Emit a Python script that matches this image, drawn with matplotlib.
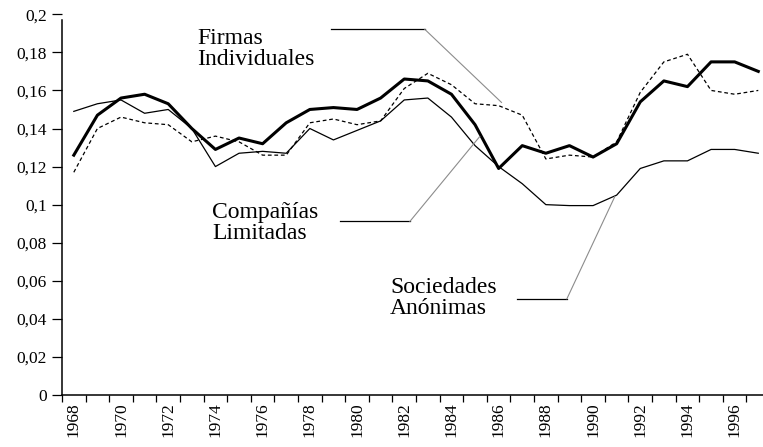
import numpy as np
import matplotlib
matplotlib.use("Agg")
import matplotlib.pyplot as plt

# years on the categorical x axis
years = list(range(1968, 1998))

# Compañías Limitadas (thick line)
limitadas = [0.126, 0.147, 0.156, 0.158, 0.153, 0.140, 0.129, 0.135, 0.132, 0.143,
             0.150, 0.151, 0.150, 0.156, 0.166, 0.165, 0.158, 0.142, 0.119, 0.131,
             0.127, 0.131, 0.125, 0.132, 0.154, 0.165, 0.162, 0.175, 0.175, 0.170]

# Firmas Individuales (dashed line)
individuales = [0.117, 0.140, 0.146, 0.143, 0.142, 0.133, 0.136, 0.133, 0.126, 0.126,
                0.143, 0.145, 0.142, 0.144, 0.161, 0.169, 0.163, 0.153, 0.152, 0.147,
                0.124, 0.126, 0.125, 0.133, 0.159, 0.175, 0.179, 0.160, 0.158, 0.160]

# Sociedades Anónimas (thin line)
anonimas = [0.149, 0.153, 0.155, 0.148, 0.150, 0.140, 0.120, 0.127, 0.128, 0.127,
            0.140, 0.134, 0.139, 0.144, 0.155, 0.156, 0.146, 0.131, 0.120, 0.111,
            0.100, 0.0995, 0.0995, 0.105, 0.119, 0.123, 0.123, 0.129, 0.129, 0.127]

yticks = [0, 0.02, 0.04, 0.06, 0.08, 0.1, 0.12, 0.14, 0.16, 0.18, 0.2]
ytick_labels = ["0", "0,02", "0,04", "0,06", "0,08", "0,1", "0,12", "0,14", "0,16", "0,18", "0,2"]

plt.rcParams['font.family'] = ['Liberation Serif', 'DejaVu Serif']

fig = plt.figure(figsize=(7.63, 4.47), dpi=100)
ax = fig.add_axes([62 / 763, 52 / 447, 701 / 763, 0.8517])

x = np.arange(len(years))
ax.plot(x, anonimas, color='black', lw=0.9)
ax.plot(x, individuales, color='black', lw=0.9, dashes=(3, 2.2))
ax.plot(x, limitadas, color='black', lw=2.2)

ax.set_xlim(-0.5, 29.2)
ax.set_ylim(0, 0.2)

# tick marks at category boundaries, labels on every second year
ax.set_xticks(np.arange(-0.5, 29.5, 1))
ax.set_xticklabels([])
ax.set_xticks(x[::2], minor=True)
ax.set_xticklabels([str(y) for y in years[::2]], minor=True, rotation=90, fontsize=12.5)
ax.tick_params(axis='x', which='major', direction='out', length=5, width=0.9)
ax.tick_params(axis='x', which='minor', length=0, pad=5)

ax.set_yticks(yticks)
ax.set_yticklabels(ytick_labels, fontsize=12.5)
ax.tick_params(axis='y', direction='out', length=7, width=0.9, pad=4)

for s in ['top', 'right']:
    ax.spines[s].set_visible(False)
ax.spines['left'].set_linewidth(1.1)
ax.spines['bottom'].set_linewidth(1.1)
ax.spines['left'].set_bounds(0, 0.197)

# labels with leader lines
label_kw = dict(fontsize=17, linespacing=1.0, va='top', ha='left')
ax.text(5.22, 0.193, "Firmas\nIndividuales", **label_kw)
ax.text(5.85, 0.1015, "Compañías\nLimitadas", **label_kw)
ax.text(13.4, 0.0622, "Sociedades\nAnónimas", **label_kw)

ax.plot([10.88, 14.87], [0.1921, 0.1921], color='black', lw=0.9)
ax.plot([14.87, 18.12], [0.1921, 0.1537], color='0.55', lw=0.8)
ax.plot([11.27, 14.24], [0.0912, 0.0912], color='black', lw=0.9)
ax.plot([14.24, 17.20], [0.0912, 0.1358], color='0.55', lw=0.8)
ax.plot([18.77, 20.89], [0.0505, 0.0505], color='black', lw=0.9)
ax.plot([20.89, 22.92], [0.0505, 0.1042], color='0.55', lw=0.8)

fig.savefig("out.png", dpi=100)
